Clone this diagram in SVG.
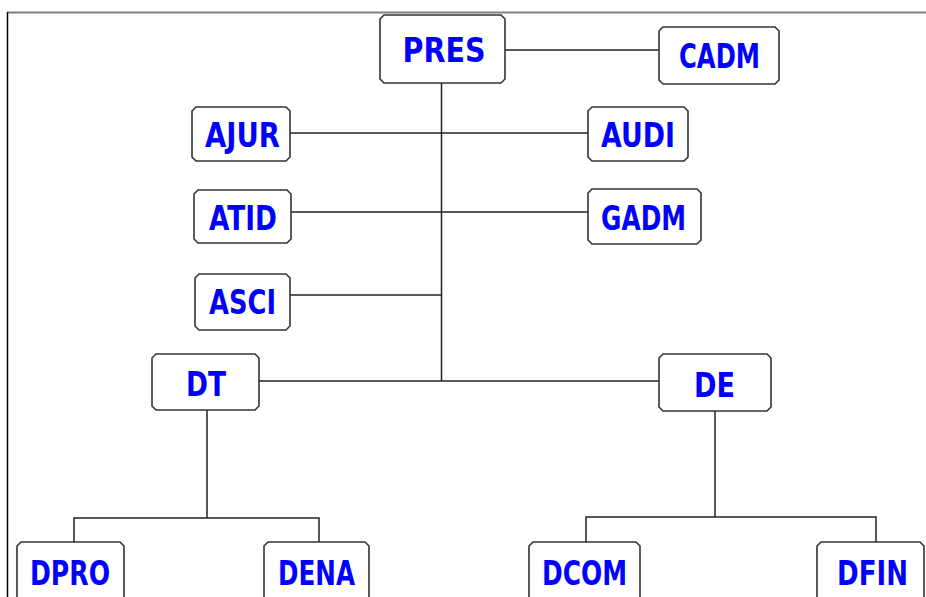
<svg xmlns="http://www.w3.org/2000/svg" width="926" height="597" viewBox="0 0 926 597">
<style>
.box{fill:#fff;stroke:#333;stroke-width:1.6}
.lbl{font-family:"DejaVu Sans",sans-serif;font-weight:bold;font-size:34px;fill:#0000ff;text-anchor:middle}
.con{fill:none;stroke:#222;stroke-width:1.5}
</style>
<rect width="926" height="597" fill="#fff"/>
<g id="frame">
<line x1="7" y1="12.5" x2="926" y2="12.5" stroke="#808080" stroke-width="2"/>
<line x1="7.5" y1="12" x2="7.5" y2="597" stroke="#000" stroke-width="1.5"/>
</g>
<g id="connectors">
<path class="con" d="M505,50 H659"/>
<path class="con" d="M441.5,83 V381"/>
<path class="con" d="M290,133 H588"/>
<path class="con" d="M291,212 H588"/>
<path class="con" d="M290,295 H441.5"/>
<path class="con" d="M259,381 H659"/>
<path class="con" d="M207,410 V518"/>
<path class="con" d="M74,542 V518 H319 V542"/>
<path class="con" d="M715,411 V517"/>
<path class="con" d="M586,542 V517 H876 V542"/>
</g>
<g id="PRES"><polygon class="box" points="384,15 501,15 505,19 505,79 501,83 384,83 380,79 380,19"/><text class="lbl" x="444" y="62" textLength="83" lengthAdjust="spacingAndGlyphs">PRES</text></g>
<g id="CADM"><polygon class="box" points="663,27 775,27 779,31 779,80 775,84 663,84 659,80 659,31"/><text class="lbl" x="719.5" y="68" textLength="81" lengthAdjust="spacingAndGlyphs">CADM</text></g>
<g id="AJUR"><polygon class="box" points="196,107 286,107 290,111 290,157 286,161 196,161 192,157 192,111"/><text class="lbl" x="242.5" y="147" textLength="75" lengthAdjust="spacingAndGlyphs">AJUR</text></g>
<g id="AUDI"><polygon class="box" points="592,107 684,107 688,111 688,157 684,161 592,161 588,157 588,111"/><text class="lbl" x="638" y="147" textLength="74" lengthAdjust="spacingAndGlyphs">AUDI</text></g>
<g id="ATID"><polygon class="box" points="198,190 287,190 291,194 291,239 287,243 198,243 194,239 194,194"/><text class="lbl" x="243" y="230" textLength="68" lengthAdjust="spacingAndGlyphs">ATID</text></g>
<g id="GADM"><polygon class="box" points="592,189 697,189 701,193 701,240 697,244 592,244 588,240 588,193"/><text class="lbl" x="643.5" y="230" textLength="85" lengthAdjust="spacingAndGlyphs">GADM</text></g>
<g id="ASCI"><polygon class="box" points="199,274 286,274 290,278 290,326 286,330 199,330 195,326 195,278"/><text class="lbl" x="242.5" y="314" textLength="67" lengthAdjust="spacingAndGlyphs">ASCI</text></g>
<g id="DT"><polygon class="box" points="156,354 255,354 259,358 259,406 255,410 156,410 152,406 152,358"/><text class="lbl" x="206" y="396" textLength="40" lengthAdjust="spacingAndGlyphs">DT</text></g>
<g id="DE"><polygon class="box" points="663,354 767,354 771,358 771,407 767,411 663,411 659,407 659,358"/><text class="lbl" x="714.5" y="397" textLength="41" lengthAdjust="spacingAndGlyphs">DE</text></g>
<g id="DPRO"><path class="box" d="M17,600 V546 L21,542 H120 L124,546 V600"/><text class="lbl" x="70" y="585" textLength="80" lengthAdjust="spacingAndGlyphs">DPRO</text></g>
<g id="DENA"><path class="box" d="M264,600 V546 L268,542 H365 L369,546 V600"/><text class="lbl" x="316.5" y="585" textLength="77" lengthAdjust="spacingAndGlyphs">DENA</text></g>
<g id="DCOM"><path class="box" d="M529,600 V546 L533,542 H636 L640,546 V600"/><text class="lbl" x="584.5" y="585" textLength="85" lengthAdjust="spacingAndGlyphs">DCOM</text></g>
<g id="DFIN"><path class="box" d="M817,600 V546 L821,542 H920 L924,546 V600"/><text class="lbl" x="872.5" y="585" textLength="71" lengthAdjust="spacingAndGlyphs">DFIN</text></g>
</svg>
